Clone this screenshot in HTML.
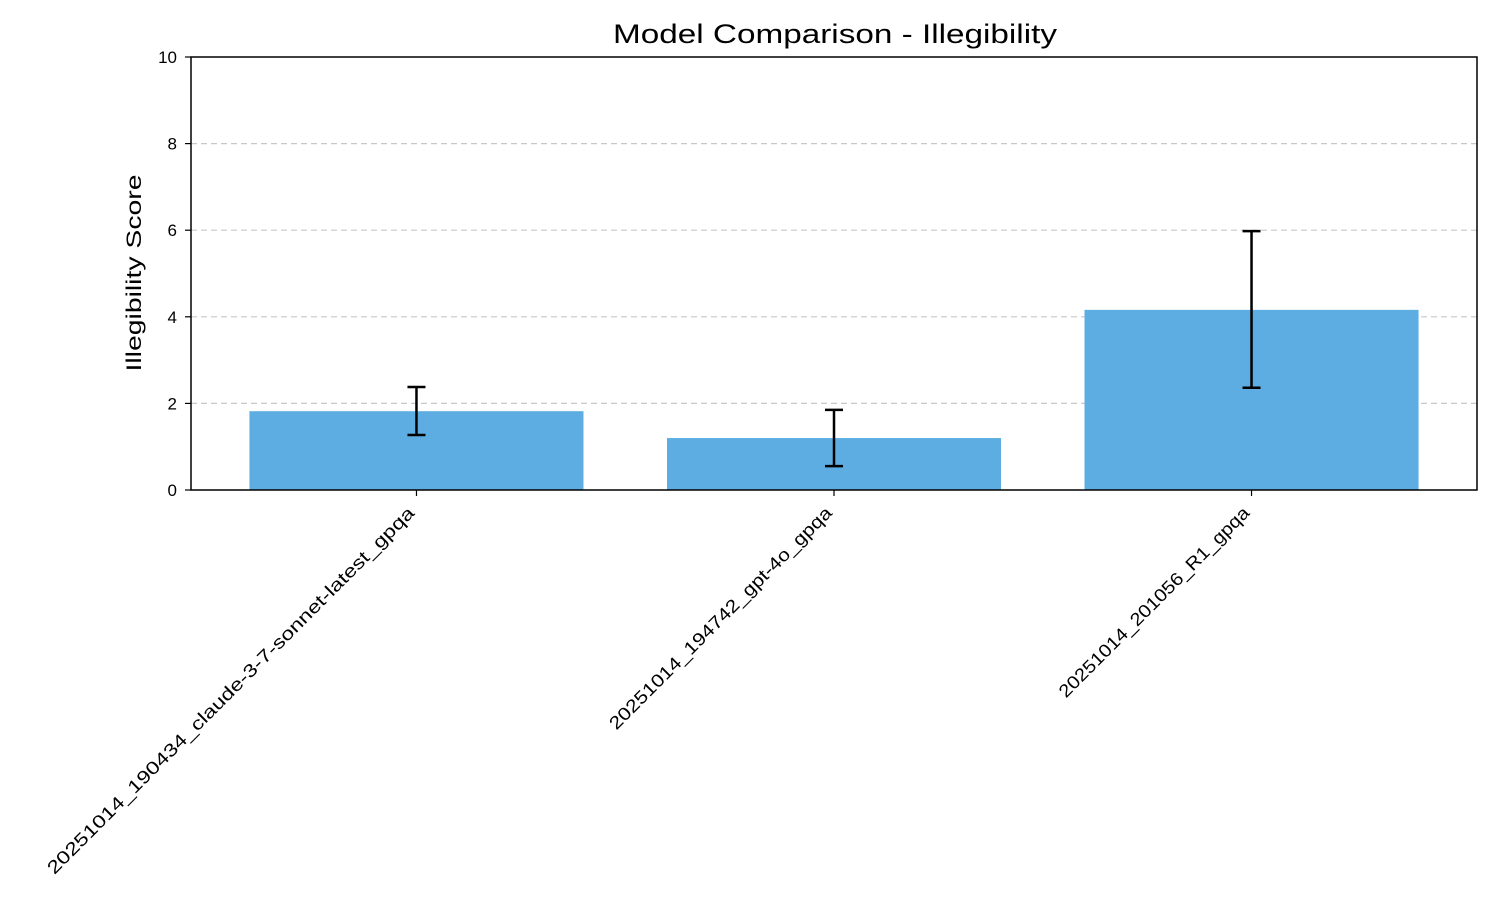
<!DOCTYPE html>
<html><head><meta charset="utf-8"><style>
body{margin:0;background:#fff}
svg{display:block;font-family:"Liberation Sans",sans-serif}
</style></head><body>
<svg id="chart" width="1500" height="900">
<text x="835" y="43" font-size="27" text-anchor="middle" textLength="444" lengthAdjust="spacingAndGlyphs">Model Comparison - Illegibility</text>
<text transform="translate(141,273) rotate(-90)" font-size="21" text-anchor="middle" textLength="197" lengthAdjust="spacingAndGlyphs">Illegibility Score</text>
<g id="grid"></g><g id="bars"></g><g id="errs"></g>
<rect x="191" y="57" width="1286" height="433" fill="none" stroke="#000" stroke-width="1.5"/>
<g id="yticks"></g><g id="xticks"></g>
</svg>
<script>
const categories=["20251014_190434_claude-3-7-sonnet-latest_gpqa","20251014_194742_gpt-4o_gpqa","20251014_201056_R1_gpqa"];
const values=[1.82,1.20,4.16];
const errLow=[1.27,0.55,2.36];
const errHigh=[2.38,1.85,5.98];
const yTicks=[0,2,4,6,8,10];
const NS="http://www.w3.org/2000/svg";
const L=191,R=1477,T=57,B=490,xmin=-0.54,xmax=2.54;
const y=v=>B-(v/10)*(B-T);
const x=i=>L+(i-xmin)/(xmax-xmin)*(R-L);
function mk(tag,attrs,parent){const e=document.createElementNS(NS,tag);for(const k in attrs)e.setAttribute(k,attrs[k]);document.getElementById(parent).appendChild(e);return e;}
yTicks.forEach(t=>{
 if(t>0&&t<10){const g=mk('line',{x1:L,x2:R,y1:y(t),y2:y(t),stroke:'#c8c8c8','stroke-dasharray':'6,4','stroke-width':1.2},'grid');
 
 }
 const tk=mk('line',{x1:L-6,x2:L,y1:y(t),y2:y(t),stroke:'#000','stroke-width':1.2},'yticks');
 
 
 const tx=mk('text',{x:L-14,y:y(t)+6,'font-size':17,'text-anchor':'end'},'yticks');tx.textContent=t;
 
 
});
const w=(R-L)/(xmax-xmin)*0.8;
categories.forEach((c,i)=>{
 const b=mk('rect',{x:x(i)-w/2,y:y(values[i]),width:w,height:B-y(values[i]),fill:'#5dade2'},'bars');
 
 
 const cx=x(i);
 const e=mk('path',{d:`M${cx},${y(errLow[i])}V${y(errHigh[i])}M${cx-9},${y(errLow[i])}H${cx+9}M${cx-9},${y(errHigh[i])}H${cx+9}`,stroke:'#000','stroke-width':2.5,fill:'none'},'errs');
 
 
 const tk=mk('line',{x1:cx,x2:cx,y1:B,y2:B+6,stroke:'#000','stroke-width':1.2},'xticks');
 
 
 const tx=mk('text',{transform:`translate(${cx-1},${B+24}) rotate(-45)`,'font-size':18,'text-anchor':'end',textLength:c.length*11.35,lengthAdjust:'spacingAndGlyphs'},'xticks');tx.textContent=c;
 
 
});
</script>
</body></html>
